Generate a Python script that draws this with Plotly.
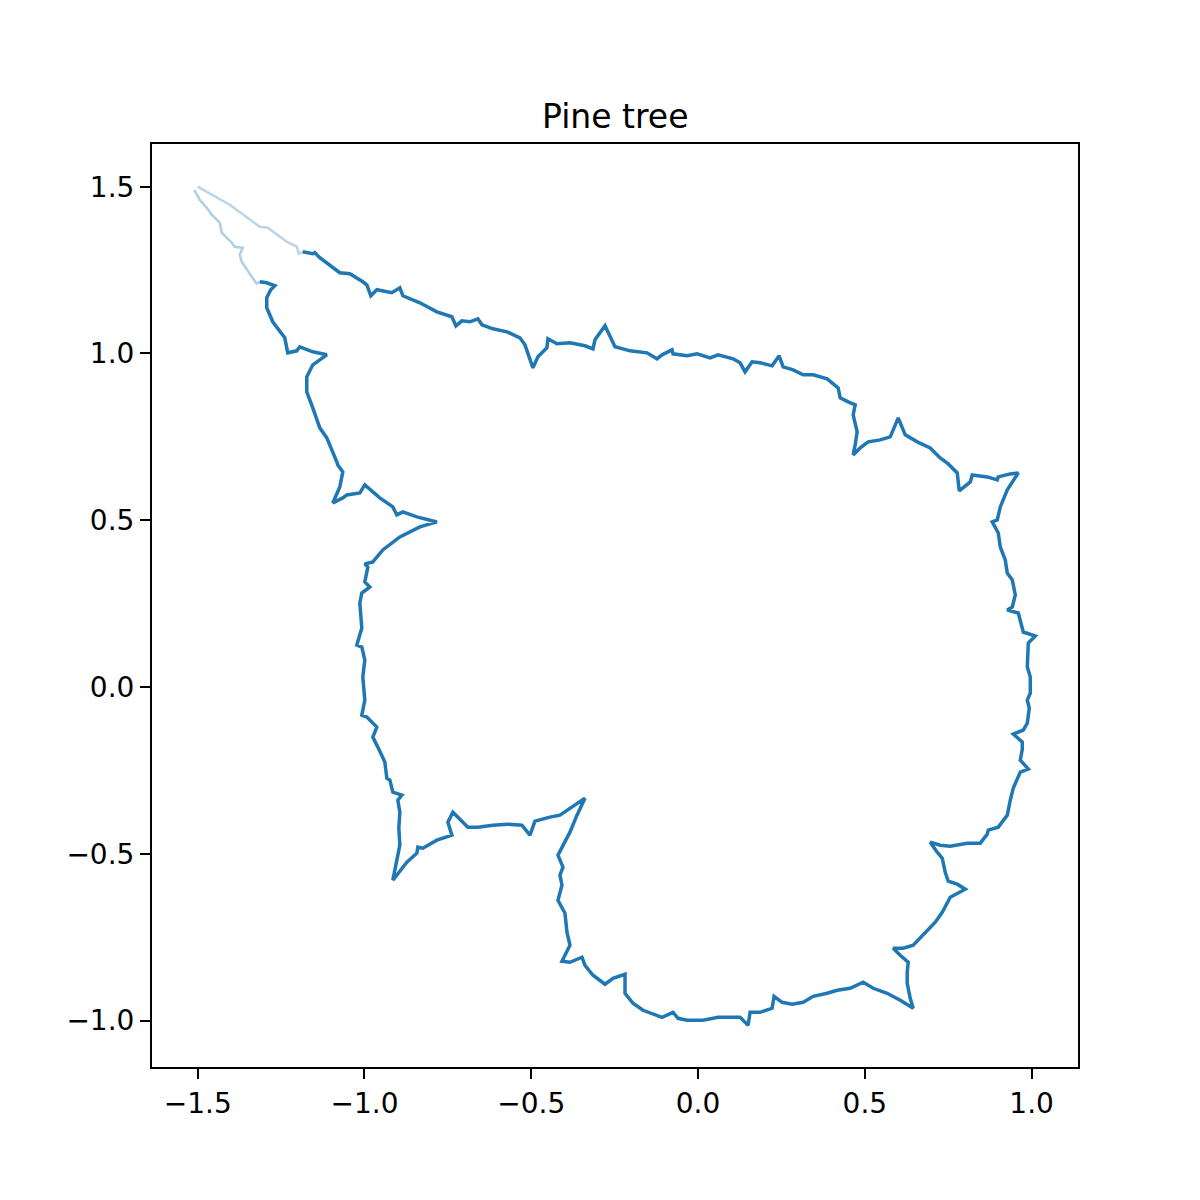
import plotly.graph_objects as go

# Traced boundary of the "Pine tree" set (data coordinates), one closed walk
# starting at the top-left tip, along the top edge, around and back up the left side.
xs = [
    -1.500, -1.404, -1.314, -1.290, -1.233, -1.203, -1.197, -1.185, -1.155, -1.149,
    -1.134, -1.074, -1.044, -1.005, -0.993, -0.981, -0.963, -0.918, -0.894, -0.885,
    -0.834, -0.783, -0.738, -0.726, -0.708, -0.684, -0.660, -0.648, -0.615, -0.573,
    -0.534, -0.519, -0.495, -0.480, -0.453, -0.450, -0.423, -0.384, -0.339, -0.315,
    -0.309, -0.279, -0.249, -0.204, -0.153, -0.123, -0.108, -0.078, -0.075, -0.033,
    -0.003, 0.036, 0.060, 0.105, 0.126, 0.141, 0.162, 0.186, 0.222, 0.243,
    0.255, 0.285, 0.315, 0.345, 0.387, 0.420, 0.426, 0.450, 0.471, 0.465,
    0.477, 0.471, 0.465, 0.486, 0.510, 0.546, 0.576, 0.585, 0.600, 0.621,
    0.657, 0.696, 0.726, 0.750, 0.762, 0.777, 0.783, 0.816, 0.822, 0.867,
    0.897, 0.900, 0.936, 0.960, 0.927, 0.906, 0.897, 0.882, 0.900, 0.906,
    0.921, 0.927, 0.942, 0.951, 0.942, 0.927, 0.960, 0.975, 1.011, 0.990,
    0.987, 0.996, 0.996, 0.987, 0.993, 0.987, 0.975, 0.945, 0.972, 0.972,
    0.966, 0.990, 0.966, 0.945, 0.936, 0.927, 0.900, 0.870, 0.867, 0.846,
    0.807, 0.756, 0.726, 0.696, 0.717, 0.732, 0.741, 0.750, 0.777, 0.801,
    0.756, 0.732, 0.711, 0.687, 0.645, 0.615, 0.585, 0.606, 0.630, 0.627,
    0.627, 0.636, 0.645, 0.606, 0.567, 0.525, 0.495, 0.456, 0.417, 0.387,
    0.345, 0.315, 0.282, 0.252, 0.228, 0.222, 0.186, 0.156, 0.150, 0.126,
    0.060, 0.015, -0.033, -0.060, -0.075, -0.108, -0.123, -0.165, -0.195, -0.219,
    -0.219, -0.255, -0.279, -0.315, -0.339, -0.348, -0.384, -0.408, -0.384, -0.393,
    -0.399, -0.420, -0.408, -0.414, -0.405, -0.420, -0.384, -0.363, -0.339, -0.378,
    -0.414, -0.444, -0.489, -0.504, -0.528, -0.573, -0.615, -0.660, -0.690, -0.735,
    -0.750, -0.738, -0.783, -0.825, -0.840, -0.843, -0.873, -0.915, -0.894, -0.897,
    -0.894, -0.900, -0.888, -0.915, -0.924, -0.933, -0.939, -0.960, -0.975, -0.963,
    -0.993, -1.008, -0.999, -1.005, -0.999, -1.008, -1.023, -1.008, -1.014, -1.008,
    -0.984, -0.999, -0.990, -0.999, -0.975, -0.945, -0.894, -0.834, -0.783, -0.843,
    -0.885, -0.903, -0.915, -0.954, -0.999, -1.014, -1.053, -1.065, -1.095, -1.074,
    -1.065, -1.080, -1.083, -1.113, -1.134, -1.155, -1.173, -1.173, -1.155, -1.113,
    -1.155, -1.194, -1.203, -1.230, -1.239, -1.275, -1.293, -1.293, -1.281, -1.269,
    -1.293, -1.314, -1.323, -1.338, -1.368, -1.374, -1.365, -1.389, -1.398, -1.428,
    -1.434, -1.458, -1.473, -1.494, -1.510,
]
ys = [
    1.500, 1.446, 1.380, 1.377, 1.335, 1.320, 1.299, 1.305, 1.299, 1.302,
    1.287, 1.242, 1.239, 1.215, 1.206, 1.173, 1.191, 1.182, 1.197, 1.173,
    1.152, 1.125, 1.110, 1.083, 1.098, 1.095, 1.104, 1.086, 1.074, 1.065,
    1.047, 1.026, 0.957, 0.990, 1.017, 1.044, 1.029, 1.032, 1.023, 1.014,
    1.041, 1.083, 1.020, 1.008, 1.002, 0.984, 0.996, 1.011, 0.999, 0.993,
    0.999, 0.987, 0.996, 0.984, 0.972, 0.945, 0.975, 0.972, 0.963, 0.993,
    0.960, 0.951, 0.936, 0.936, 0.924, 0.897, 0.867, 0.855, 0.846, 0.816,
    0.765, 0.726, 0.696, 0.717, 0.735, 0.741, 0.750, 0.771, 0.807, 0.756,
    0.735, 0.717, 0.687, 0.669, 0.657, 0.642, 0.588, 0.615, 0.636, 0.630,
    0.621, 0.630, 0.639, 0.642, 0.591, 0.540, 0.501, 0.495, 0.462, 0.420,
    0.381, 0.342, 0.321, 0.276, 0.240, 0.231, 0.222, 0.165, 0.153, 0.132,
    0.060, 0.030, -0.018, -0.039, -0.063, -0.108, -0.129, -0.141, -0.165, -0.186,
    -0.219, -0.246, -0.255, -0.303, -0.339, -0.384, -0.420, -0.429, -0.441, -0.468,
    -0.468, -0.477, -0.474, -0.465, -0.495, -0.513, -0.555, -0.582, -0.591, -0.606,
    -0.630, -0.675, -0.705, -0.729, -0.774, -0.783, -0.783, -0.804, -0.825, -0.855,
    -0.888, -0.933, -0.963, -0.939, -0.918, -0.903, -0.885, -0.903, -0.909, -0.918,
    -0.927, -0.945, -0.951, -0.945, -0.927, -0.963, -0.975, -0.975, -1.014, -0.990,
    -0.990, -0.999, -0.999, -0.993, -0.975, -0.990, -0.984, -0.969, -0.948, -0.918,
    -0.861, -0.873, -0.891, -0.864, -0.834, -0.810, -0.825, -0.822, -0.774, -0.735,
    -0.678, -0.639, -0.594, -0.564, -0.540, -0.504, -0.435, -0.384, -0.333, -0.360,
    -0.384, -0.390, -0.402, -0.444, -0.414, -0.411, -0.414, -0.420, -0.420, -0.375,
    -0.405, -0.444, -0.459, -0.483, -0.480, -0.498, -0.525, -0.579, -0.474, -0.423,
    -0.375, -0.339, -0.324, -0.315, -0.279, -0.273, -0.225, -0.180, -0.150, -0.120,
    -0.090, -0.084, -0.039, 0.030, 0.081, 0.120, 0.126, 0.177, 0.252, 0.282,
    0.300, 0.315, 0.360, 0.369, 0.375, 0.411, 0.450, 0.480, 0.495, 0.510,
    0.525, 0.516, 0.540, 0.567, 0.606, 0.582, 0.576, 0.567, 0.552, 0.600,
    0.645, 0.666, 0.675, 0.747, 0.777, 0.837, 0.885, 0.930, 0.966, 0.996,
    1.005, 1.020, 1.008, 1.002, 1.047, 1.095, 1.137, 1.167, 1.191, 1.203,
    1.212, 1.215, 1.209, 1.230, 1.275, 1.296, 1.317, 1.320, 1.332, 1.362,
    1.392, 1.416, 1.437, 1.461, 1.490,
]

x_ticks = [-1.5, -1.0, -0.5, 0.0, 0.5, 1.0]
y_ticks = [-1.0, -0.5, 0.0, 0.5, 1.0, 1.5]
title = "Pine tree"

BLUE = "#1f77b4"
FONT = "DejaVu Sans"


def fmt(v):
    s = f"{abs(v):.1f}"
    return ("\u2212" + s) if v < 0 else s


n_head = 8   # faint part near the tip, upper branch
n_tail = 14  # faint part near the tip, lower branch

fig = go.Figure()
fig.add_trace(go.Scatter(x=xs[n_head - 1:len(xs) - n_tail + 1], y=ys[n_head - 1:len(ys) - n_tail + 1],
                         mode="lines", line=dict(color=BLUE, width=3.5), hoverinfo="skip"))
fig.add_trace(go.Scatter(x=xs[:n_head], y=ys[:n_head], mode="lines",
                         line=dict(color=BLUE, width=2.5), opacity=0.3, hoverinfo="skip"))
fig.add_trace(go.Scatter(x=xs[-n_tail:], y=ys[-n_tail:], mode="lines",
                         line=dict(color=BLUE, width=2.5), opacity=0.35, hoverinfo="skip"))

axis_common = dict(
    showgrid=False, zeroline=False, showline=True, linecolor="black", linewidth=2,
    mirror=True, ticks="outside", ticklen=10, tickwidth=2, tickcolor="black",
    tickfont=dict(family=FONT, size=28, color="black"),
)

fig.update_layout(
    width=1200, height=1200,
    margin=dict(l=144, r=130, t=136, b=141),
    paper_bgcolor="white", plot_bgcolor="white",
    showlegend=False,
    xaxis=dict(range=[-1.637, 1.139], tickvals=x_ticks, ticktext=[fmt(v) for v in x_ticks], **axis_common),
    yaxis=dict(range=[-1.139, 1.628], tickvals=y_ticks, ticktext=[fmt(v) for v in y_ticks], **axis_common),
    annotations=[dict(text=title, x=0.5, y=1, xref="paper", yref="paper", xanchor="center",
                      yanchor="bottom", yshift=6, showarrow=False,
                      font=dict(family=FONT, size=33, color="black"))],
)

fig.write_html("out.html")
